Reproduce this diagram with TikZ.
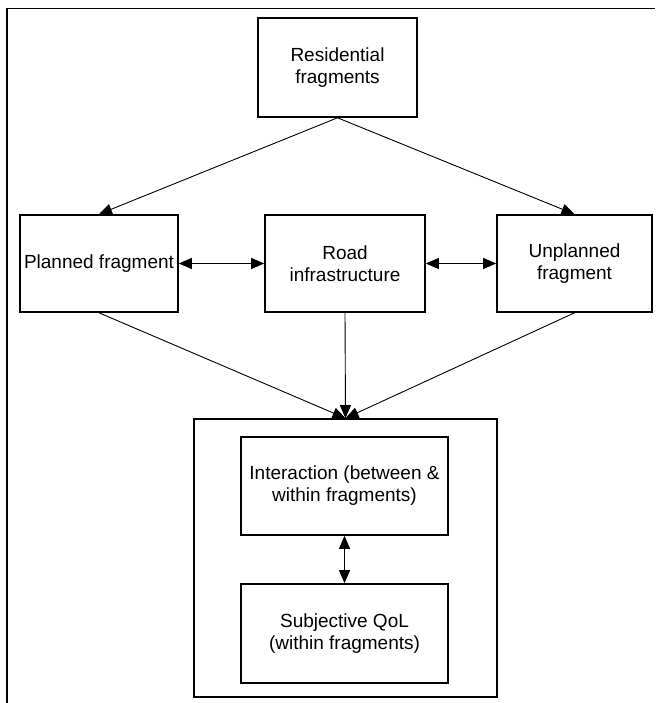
\documentclass[tikz,border=0pt]{standalone}
\usepackage{fontspec}
\setmainfont{Liberation Sans}
\usetikzlibrary{
    arrows.meta,
    positioning
}

\tikzset{
    box/.style={draw, line width=1.6pt, align=center, inner sep=0pt,
        font=\fontsize{19}{22}\selectfont},
    link/.style={line width=0.9pt, -{Triangle[length=13pt, width=11pt]}},
    bilink/.style={line width=0.9pt,
        {Triangle[length=13pt, width=11pt]}-{Triangle[length=13pt, width=11pt]}}
}

\begin{document}
\begin{tikzpicture}[x=1pt, y=-1pt]

\useasboundingbox (0,0) rectangle (659,703);

% Frame
\draw[line width=1.6pt] (7,703) -- (7,8.5) -- (655,8.5);

% Top box
\node[box, minimum width=159pt, minimum height=99pt] (res) at (337.5,67.5)
    {Residential\\fragments};

% Middle row
\node[box, minimum width=158pt, minimum height=97pt] (plan) at (99,263.5)
    {Planned fragment};
\node[box, minimum width=160pt, minimum height=97pt] (road) at (345,263.5)
    {Road\\infrastructure};
\node[box, minimum width=155pt, minimum height=97pt] (unplan) at (574.5,263.5)
    {Unplanned\\fragment};

% Outcome group
\node[box, minimum width=303pt, minimum height=278pt] (outcome) at (345.5,558) {};
\node[box, minimum width=207pt, minimum height=98pt] (inter) at (344.5,486)
    {Interaction (between \&\\within fragments)};
\node[box, minimum width=207pt, minimum height=99pt] (qol) at (344.5,633.5)
    {Subjective QoL\\(within fragments)};

% Arrows
\draw[link] (res.south) -- (plan.north);
\draw[link] (res.south) -- (unplan.north);
\draw[bilink] (plan.east) -- (road.west);
\draw[bilink] (road.east) -- (unplan.west);
\draw[link] (plan.south) -- (outcome.north);
\draw[link] (road.south) -- (outcome.north);
\draw[link] (unplan.south) -- (outcome.north);
\draw[bilink] (inter.south) -- (qol.north);

\end{tikzpicture}
\end{document}
